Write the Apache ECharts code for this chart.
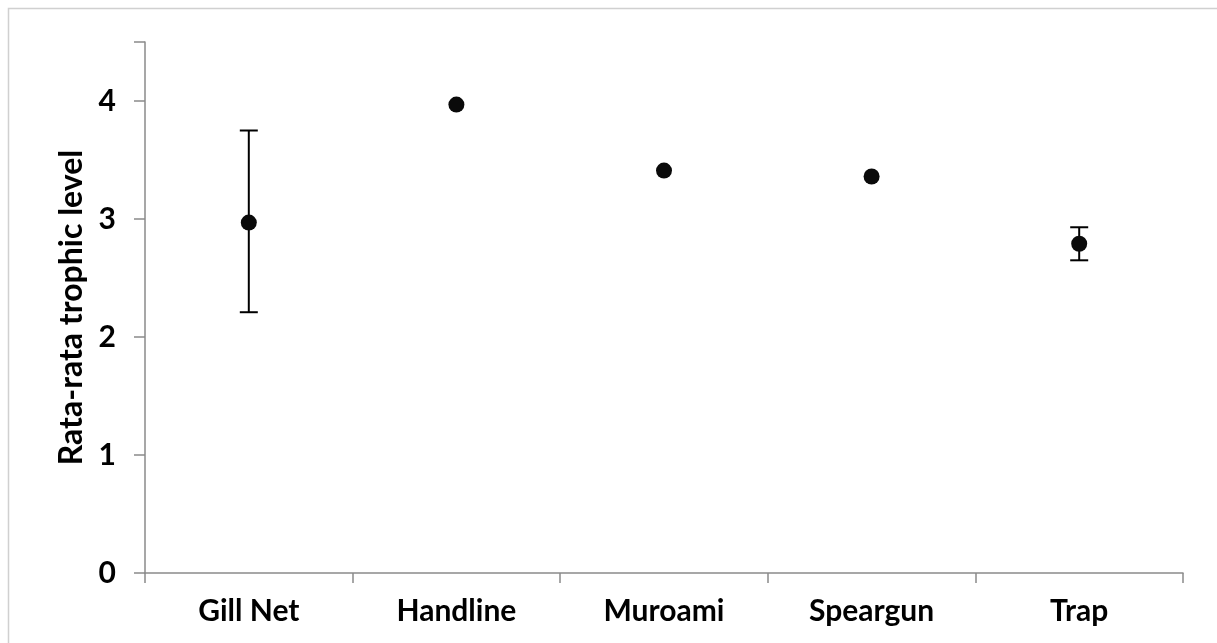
<!DOCTYPE html>
<html>
<head>
<meta charset="utf-8">
<script src="https://cdn.jsdelivr.net/npm/echarts@6/dist/echarts.min.js"></script>
<style>
html,body{margin:0;padding:0;background:#fff;}
#chart{width:1217px;height:643px;}
</style>
</head>
<body>
<div id="chart"></div>
<script>
const categories = ['Gill Net', 'Handline', 'Muroami', 'Speargun', 'Trap'];
const meanValues = [2.97, 3.97, 3.41, 3.36, 2.79];
const errLow = [2.21, 3.97, 3.41, 3.36, 2.65];
const errHigh = [3.75, 3.97, 3.41, 3.36, 2.93];
const yTicks = [0, 1, 2, 3, 4];

const FONT = 'Lato';
const chart = echarts.init(document.getElementById('chart'));

const errData = categories.map((c, i) => [i, errLow[i], errHigh[i]]);

chart.setOption({
  backgroundColor: '#fff',
  animation: false,
  graphic: [{
    type: 'rect',
    shape: {x: 8.5, y: 8.5, width: 1400, height: 800},
    style: {fill: 'none', stroke: '#d0d0d0', lineWidth: 1.5},
    silent: true
  }],
  grid: {left: 145, right: 34, top: 42, bottom: 70, containLabel: false},
  xAxis: {
    type: 'category',
    data: categories,
    boundaryGap: true,
    axisLine: {lineStyle: {color: '#8a8a8a', width: 1.5}},
    axisTick: {show: true, length: 10, alignWithLabel: false, lineStyle: {color: '#8a8a8a', width: 1.5}},
    axisLabel: {fontFamily: FONT, fontWeight: 'bold', fontSize: 30, color: '#000', margin: 23}
  },
  yAxis: {
    type: 'value',
    min: 0, max: 4.5, interval: 1,
    name: 'Rata-rata trophic level',
    nameLocation: 'middle',
    nameGap: 57,
    nameRotate: 90,
    nameTextStyle: {fontFamily: FONT, fontWeight: 'bold', fontSize: 32, color: '#000'},
    splitLine: {show: false},
    axisLine: {show: true, lineStyle: {color: '#8a8a8a', width: 1.5}},
    axisTick: {show: true, length: 11, lineStyle: {color: '#8a8a8a', width: 1.5}},
    axisLabel: {
      fontFamily: FONT, fontWeight: 'bold', fontSize: 30, color: '#000', margin: 29,
      formatter: v => yTicks.includes(v) ? String(v) : ''
    }
  },
  series: [
    {
      type: 'custom',
      data: errData,
      z: 2,
      renderItem: function (params, api) {
        const x = api.value(0);
        const lo = api.coord([x, api.value(1)]);
        const hi = api.coord([x, api.value(2)]);
        if (Math.abs(hi[1] - lo[1]) < 1) return null;
        const w = 9;
        const st = {stroke: '#000', lineWidth: 2};
        return {
          type: 'group',
          children: [
            {type: 'line', shape: {x1: lo[0], y1: lo[1], x2: hi[0], y2: hi[1]}, style: st},
            {type: 'line', shape: {x1: lo[0] - w, y1: lo[1], x2: lo[0] + w, y2: lo[1]}, style: st},
            {type: 'line', shape: {x1: hi[0] - w, y1: hi[1], x2: hi[0] + w, y2: hi[1]}, style: st}
          ]
        };
      }
    },
    {
      type: 'scatter',
      data: meanValues,
      symbol: 'circle',
      symbolSize: 16,
      z: 3,
      itemStyle: {color: '#0a0a0a', opacity: 1}
    }
  ]
});
</script>
</body>
</html>
